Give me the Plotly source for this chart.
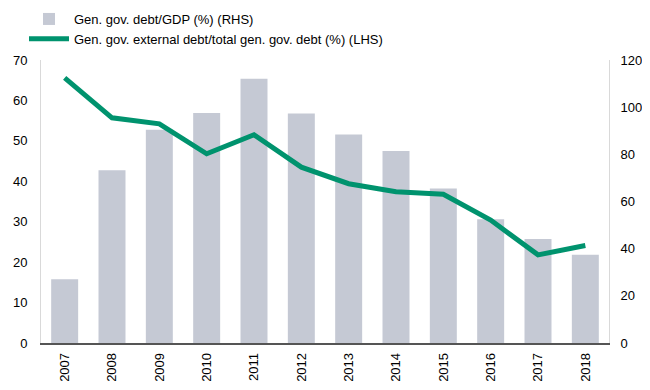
import plotly.graph_objects as go

years = ["2007", "2008", "2009", "2010", "2011", "2012", "2013", "2014", "2015", "2016", "2017", "2018"]
debt_gdp = [27.0, 73.2, 90.4, 97.5, 112.0, 97.3, 88.4, 81.4, 65.5, 52.5, 44.1, 37.4]
ext_share = [65.6, 55.7, 54.2, 46.8, 51.5, 43.5, 39.4, 37.4, 36.8, 30.4, 21.8, 24.1]

bar_name = "Gen. gov. debt/GDP (%) (RHS)"
line_name = "Gen. gov. external debt/total gen. gov. debt (%) (LHS)"

fig = go.Figure()
fig.add_trace(go.Bar(x=years, y=debt_gdp, name=bar_name, marker_color="#C5C9D4",
                     marker_line_width=0, yaxis="y"))
fig.add_trace(go.Scatter(x=years, y=ext_share, name=line_name, mode="lines",
                         line=dict(color="#00936E", width=5), yaxis="y2"))

fnt = dict(family="Liberation Sans, Arial, sans-serif", size=13, color="#000000")
W, H = 642, 382
T, B = 52, 47
PH = H - T - B
fig.update_layout(
    width=W, height=H,
    margin=dict(l=33, r=41, t=T, b=B, autoexpand=False),
    paper_bgcolor="white", plot_bgcolor="white",
    font=fnt,
    bargap=0.43,
    showlegend=True,
    legend=dict(x=16 / W, y=1 + (T + 4) / PH, xref="container", yref="paper", xanchor="left", yanchor="top",
                orientation="v", font=dict(size=13), itemwidth=40, tracegroupgap=0,
                bgcolor="rgba(0,0,0,0)"),
    xaxis=dict(type="category", tickangle=-90, showgrid=False, showline=True,
               linecolor="#555555", linewidth=1.5, ticks="", tickfont=dict(size=13),
               ticklabelstandoff=3, automargin=False),
    yaxis=dict(side="right", range=[0, 120], dtick=20, showgrid=False, showline=True,
               linecolor="#D9D9D9", linewidth=1, ticks="", zeroline=False, tickfont=dict(size=13),
               ticklabelstandoff=8, automargin=False),
    yaxis2=dict(overlaying="y", side="left", range=[0, 70], dtick=10, showgrid=False,
                showline=True, linecolor="#D9D9D9", linewidth=1, ticks="", zeroline=False,
                tickfont=dict(size=13), ticklabelstandoff=10, automargin=False),
)
fig.write_html("out.html")
